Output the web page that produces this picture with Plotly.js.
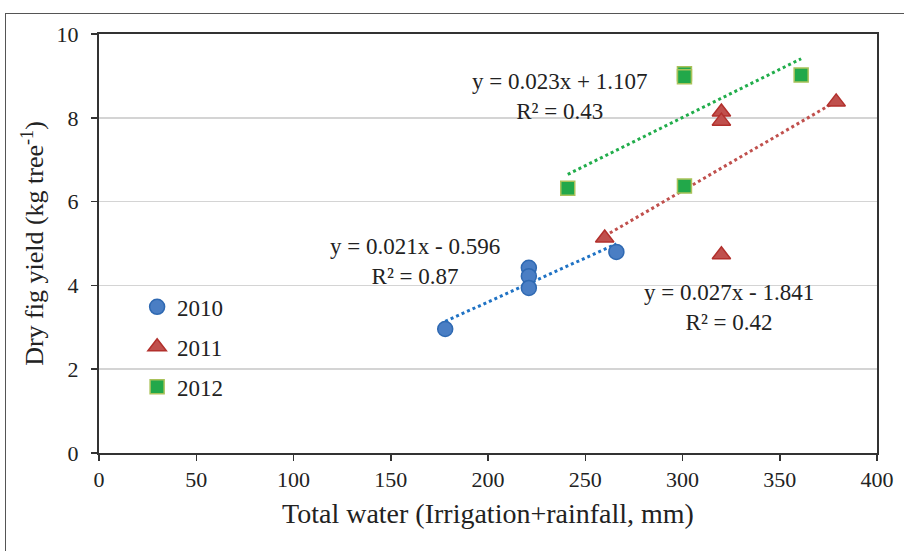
<!DOCTYPE html>
<html>
<head>
<meta charset="utf-8">
<script src="https://cdn.plot.ly/plotly-3.0.1.min.js"></script>
<style>
  html, body { margin: 0; padding: 0; background: #fff; }
  #wrap { position: relative; width: 904px; height: 551px; overflow: hidden; }
  #frame { position: absolute; left: 5px; top: 13px; width: 1000px; height: 1000px;
           border-left: 1px solid #555; border-top: 1px solid #555; pointer-events: none; }
  #chart { position: absolute; left: 0; top: 0; width: 904px; height: 551px; }
</style>
</head>
<body>
<div id="wrap">
  <div id="chart"></div>
  <div id="frame"></div>
</div>
<script>
// ---- data ----
const years = ["2010", "2011", "2012"];
const water2010 = [178, 221, 221, 221, 266];
const yield2010 = [2.96, 4.42, 4.22, 3.94, 4.80];
const water2011 = [260, 320, 320, 320, 379];
const yield2011 = [5.13, 8.14, 7.92, 4.73, 8.38];
const water2012 = [241, 301, 301, 301, 361];
const yield2012 = [6.32, 9.05, 8.98, 6.37, 9.02];
// trend line coefficients (from the chart's equations)
const slopes = [0.021, 0.027, 0.023];
const intercepts = [-0.596, -1.841, 1.107];
const r2 = [0.87, 0.42, 0.43];
const xTicks = [0, 50, 100, 150, 200, 250, 300, 350, 400];
const yTicks = [0, 2, 4, 6, 8, 10];

const FONT = "'Liberation Serif', serif";
const waters = [water2010, water2011, water2012];
const yields = [yield2010, yield2011, yield2012];
const markerStyles = [
  {symbol: "circle", color: "#4a7ec4", size: 15, line: {color: "#2f69b2", width: 1.5}},
  {symbol: "triangle-up", color: "#c0504d", size: 16, line: {color: "#b2302c", width: 1.5}},
  {symbol: "square", color: "#22a84a", size: 14, line: {color: "#a9c25a", width: 1.5}}
];
const trendColors = ["#1f72c4", "#c0504d", "#21ad4b"];

const traces = [];
// trend lines
for (let i = 0; i < 3; i++) {
  const xmin = Math.min(...waters[i]);
  const xmax = Math.max(...waters[i]);
  traces.push({
    x: [xmin, xmax],
    y: [slopes[i] * xmin + intercepts[i], slopes[i] * xmax + intercepts[i]],
    mode: "lines", type: "scatter", showlegend: false, hoverinfo: "skip",
    line: {color: trendColors[i], width: 3, dash: "dot"}
  });
}
// points
for (let i = 0; i < 3; i++) {
  traces.push({
    x: waters[i], y: yields[i], name: years[i], legendgroup: years[i],
    mode: "markers", type: "scatter", marker: markerStyles[i]
  });
}

function eq(i) {
  const s = intercepts[i] < 0 ? " - " : " + ";
  return "y = " + slopes[i].toFixed(3) + "x" + s + Math.abs(intercepts[i]).toFixed(3) +
         "<br>R² = " + r2[i].toFixed(2);
}

const annotations = [
  {x: 162.5, y: 4.56, text: eq(0)},
  {x: 324, y: 3.48, text: eq(1)},
  {x: 237, y: 8.52, text: eq(2)}
].map(a => Object.assign({
  xref: "x", yref: "y", showarrow: false, align: "center",
  font: {family: FONT, size: 23, color: "#222"}
}, a));

const axisCommon = {
  showline: true, mirror: true, linecolor: "#333", linewidth: 2,
  ticks: "outside", ticklen: 6, tickcolor: "#333", tickwidth: 1.5,
  zeroline: false, tickfont: {family: FONT, size: 22, color: "#222"}
};

const layout = {
  width: 904, height: 551,
  margin: {l: 99, r: 27, t: 34, b: 98},
  paper_bgcolor: "rgba(0,0,0,0)", plot_bgcolor: "#fff",
  font: {family: FONT},
  showlegend: true,
  legend: {
    x: 0.049, y: 0.40, xanchor: "left", yanchor: "top",
    traceorder: "grouped", tracegroupgap: 7,
    font: {family: FONT, size: 23, color: "#222"},
    bgcolor: "rgba(0,0,0,0)", itemwidth: 30
  },
  xaxis: Object.assign({}, axisCommon, {
    range: [0, 400], tickvals: xTicks, showgrid: false,
    title: {text: "Total water (Irrigation+rainfall, mm)", font: {family: FONT, size: 28, color: "#222"}, standoff: 12}
  }),
  yaxis: Object.assign({}, axisCommon, {
    range: [0, 10], tickvals: yTicks, showgrid: true, gridcolor: "#d4d4d4", gridwidth: 1.5,
    ticklabelstandoff: 8,
    title: {text: "Dry fig yield (kg tree<sup>-1</sup>)", font: {family: FONT, size: 26, color: "#222"}, standoff: 5}
  }),
  annotations: annotations
};

Plotly.newPlot("chart", traces, layout, {displayModeBar: false, staticPlot: true});
</script>
</body>
</html>
